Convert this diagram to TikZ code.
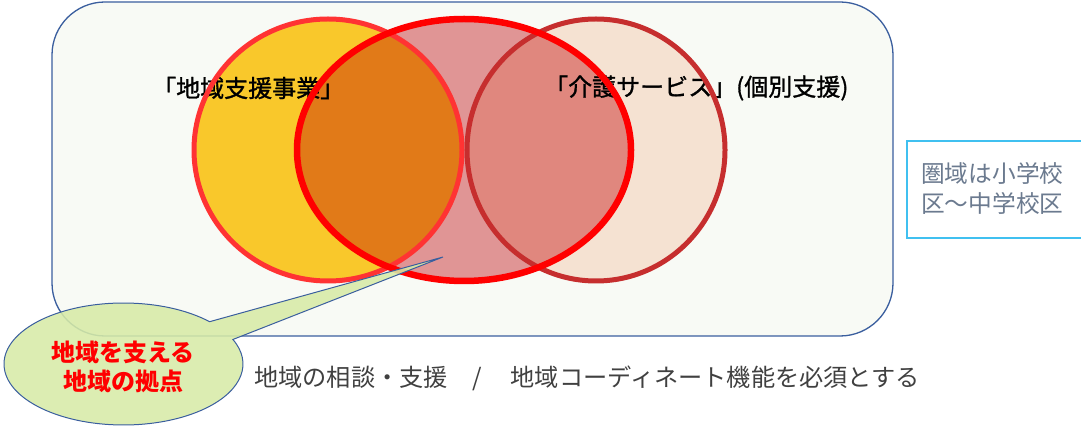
\documentclass[tikz,border=0pt]{standalone}
\usepackage{fontspec}
\setmainfont{Noto Sans CJK JP}
\newfontfamily\jplabel[FakeBold=1.2]{Noto Sans CJK JP}
\usetikzlibrary{calc}
\definecolor{frameblue}{HTML}{3A5E9E}
\definecolor{framefill}{HTML}{F8FAF5}
\definecolor{yelfill}{HTML}{F9C82B}
\definecolor{orgfill}{HTML}{E17A18}
\definecolor{pinkfill}{HTML}{E09595}
\definecolor{salfill}{HTML}{E0877E}
\definecolor{peachfill}{HTML}{F5E2D2}
\definecolor{yelline}{HTML}{FF3333}
\definecolor{midline}{HTML}{FF0000}
\definecolor{rightline}{HTML}{C62E2E}
\definecolor{callfill}{HTML}{D7EBA7}
\definecolor{cyanbox}{HTML}{40C0F0}
\definecolor{boxtext}{HTML}{6B7A8F}
\definecolor{bottext}{HTML}{404040}
\tikzset{
  labeltext/.style={inner sep=0pt, font=\jplabel\fontsize{24}{28}\selectfont, text=black},
  calltext/.style={inner sep=0pt, align=center, font=\fontsize{24}{29}\selectfont\bfseries, text=red},
  sidetext/.style={inner sep=0pt, align=left, font=\fontsize{23.7}{30}\selectfont, text=boxtext},
  bottomtext/.style={inner sep=0pt, font=\fontsize{24.2}{28}\selectfont, text=bottext},
}
\begin{document}
\begin{tikzpicture}[x=1pt,y=-1pt]
\useasboundingbox (0,0) rectangle (1081,427);
% frame
\draw[frameblue, line width=1.3pt, fill=framefill, rounded corners=53pt] (52,2) rectangle (893,336);
% circle centres
\coordinate (Y) at (328,150);
\coordinate (M) at (464,150);
\coordinate (R) at (596,150);
% fills
\fill[yelfill] (Y) ellipse[x radius=134, y radius=131];
\fill[peachfill] (R) ellipse[x radius=129, y radius=131];
\fill[pinkfill] (M) ellipse[x radius=167, y radius=131];
\begin{scope}
  \clip (Y) ellipse[x radius=134, y radius=131];
  \fill[orgfill] (M) ellipse[x radius=167, y radius=131];
\end{scope}
\begin{scope}
  \clip (R) ellipse[x radius=129, y radius=131];
  \fill[salfill] (M) ellipse[x radius=167, y radius=131];
\end{scope}
% labels (under the circle outlines)
\node[labeltext, anchor=west] (lab1) at (152,88) {「地域支援事業」};
\node[labeltext, anchor=west] (lab2) at (544,88) {「介護サービス」(個別支援)};
% strokes
\draw[yelline, line width=5pt] (Y) ellipse[x radius=134, y radius=131];
\draw[rightline, line width=5pt] (R) ellipse[x radius=129, y radius=131];
\draw[midline, line width=6.5pt] (M) ellipse[x radius=167, y radius=131];
% callout
\coordinate (cc) at (123.5,364);
\coordinate (tip) at (443,257);
\coordinate (ca) at ($(cc)+(-43.9:119.5 and 61)$);
\draw[frameblue, line width=1pt, fill=callfill, fill opacity=0.88] (tip) -- (ca) arc[start angle=-43.9, end angle=-383.7, x radius=119.5, y radius=61] -- cycle;
\node[calltext] (call) at (123,367) {地域を支える\\地域の拠点};
% side box
\draw[cyanbox, line width=1.5pt, fill=white] (907,141) rectangle (1090,238);
\node[sidetext, anchor=west] (side) at (921,188) {圏域は小学校\\区〜中学校区};
% bottom text
\node[bottomtext, anchor=west] (bot) at (254,378) {地域の相談・支援　/　\hspace{5pt}地域コーディネート機能を必須とする};
\end{tikzpicture}
\end{document}
